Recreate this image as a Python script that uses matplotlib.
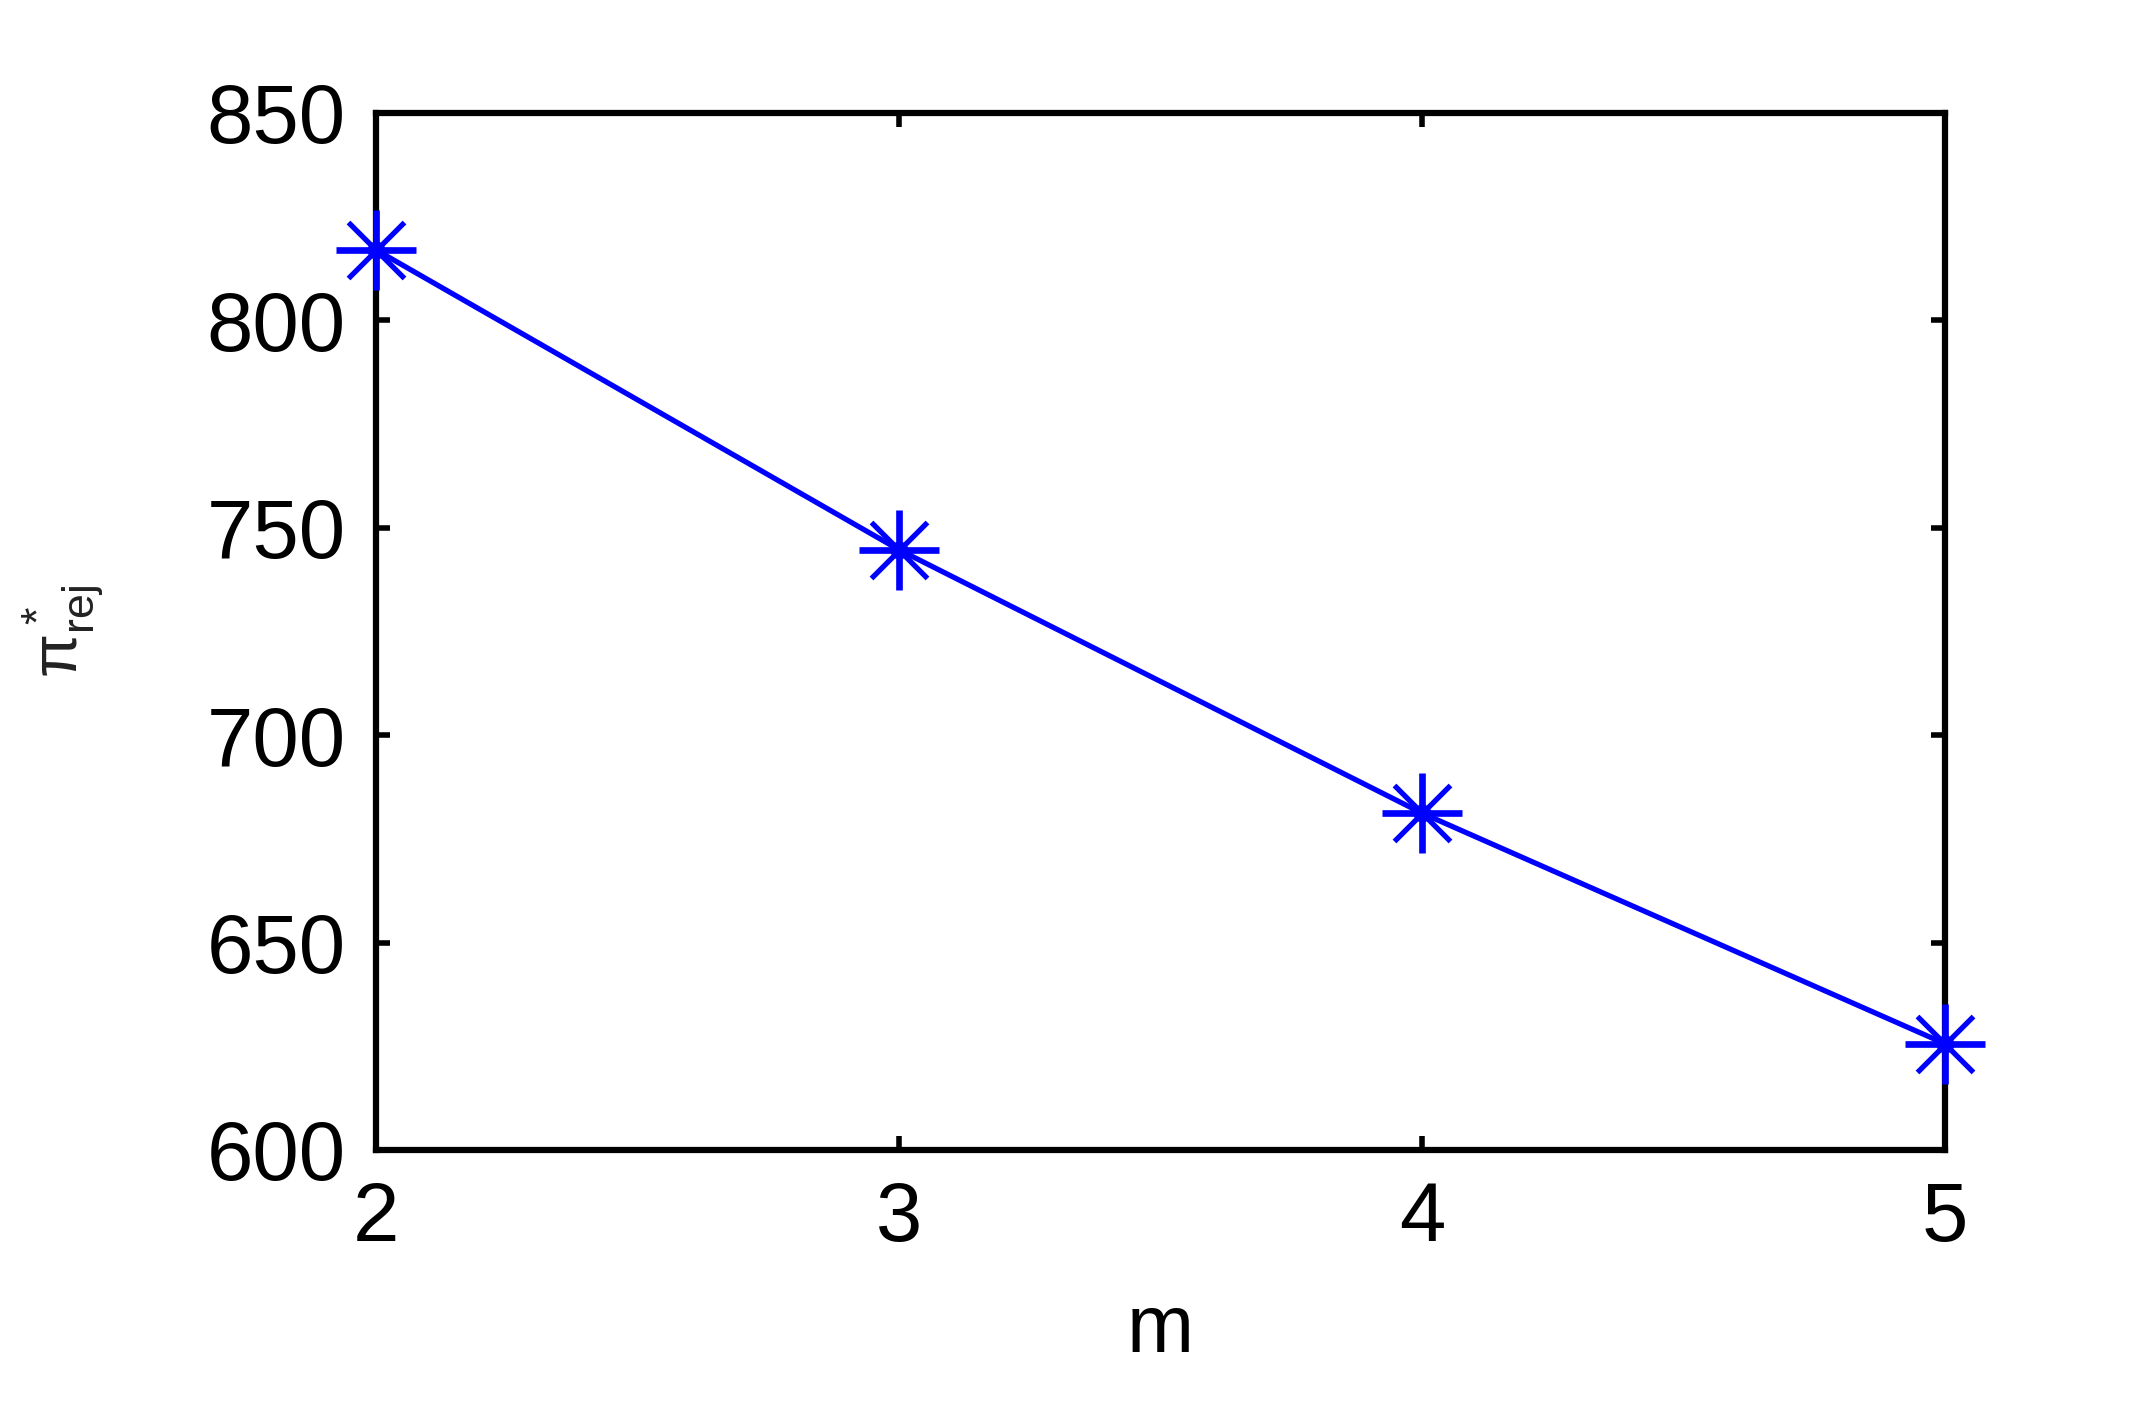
import matplotlib
import matplotlib.pyplot as plt

matplotlib.use('Agg')

# values
m_vals = [2, 3, 4, 5]
pi_rej = [817.0, 744.7, 681.2, 625.6]
yticks = [600, 650, 700, 750, 800, 850]

plt.rcParams['font.family'] = ['Liberation Sans', 'DejaVu Sans']
plt.rcParams['mathtext.default'] = 'regular'

fig = plt.figure(figsize=(21.29, 14.07), dpi=100)
ax = fig.add_axes([0.1766, 0.1827, 0.9136 - 0.1766, 0.9197 - 0.1827])

ax.plot(m_vals, pi_rej, '-', color='#0000ff', linewidth=3.8, clip_on=False, zorder=3)
ax.plot(m_vals, pi_rej, '+', color='#0000ff', markersize=58, markeredgewidth=4.8,
        clip_on=False, zorder=4)
ax.plot(m_vals, pi_rej, 'x', color='#0000ff', markersize=40, markeredgewidth=3.8,
        clip_on=False, zorder=4)
ax.plot(m_vals, pi_rej, 'o', color='#0000ff', markersize=12, clip_on=False, zorder=4)

ax.set_xlim(2, 5)
ax.set_ylim(600, 850)
ax.set_xticks(m_vals)
ax.set_yticks(yticks)

for sp in ax.spines.values():
    sp.set_linewidth(4.5)
ax.tick_params(axis='both', which='major', direction='in', length=10, width=4,
               top=True, right=True, labelsize=60, pad=22)

ax.set_xlabel('m', fontsize=58, labelpad=25)
ax.set_ylabel(r'$\pi^*_{rej}$', fontsize=46, labelpad=72, color='#222222')

fig.savefig('out.png', dpi=100)
plt.close(fig)
